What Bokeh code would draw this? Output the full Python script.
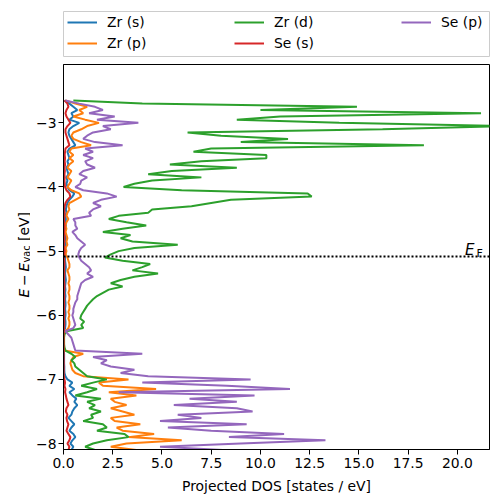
import math
from bokeh.plotting import figure
from bokeh.layouts import column, row
from bokeh.models import Legend, LegendItem, Span, Label, FixedTicker, Range1d
from bokeh.core.properties import value
from bokeh.embed import file_html
from bokeh.resources import INLINE

energy = [
    -2.65, -2.70, -2.75, -2.80, -2.85, -2.90, -2.95, -3.00, -3.05, -3.10,
    -3.15, -3.20, -3.25, -3.30, -3.35, -3.40, -3.45, -3.50, -3.55, -3.60,
    -3.65, -3.70, -3.75, -3.80, -3.85, -3.90, -3.95, -4.00, -4.05, -4.10,
    -4.15, -4.20, -4.25, -4.30, -4.35, -4.40, -4.45, -4.50, -4.55, -4.60,
    -4.65, -4.70, -4.75, -4.80, -4.85, -4.90, -4.95, -5.00, -5.05, -5.10,
    -5.15, -5.20, -5.25, -5.30, -5.35, -5.40, -5.45, -5.50, -5.55, -5.60,
    -5.65, -5.70, -5.75, -5.80, -5.85, -5.90, -5.95, -6.00, -6.05, -6.10,
    -6.15, -6.20, -6.25, -6.30, -6.35, -6.40, -6.45, -6.50, -6.55, -6.60,
    -6.65, -6.70, -6.75, -6.80, -6.85, -6.90, -6.95, -7.00, -7.05, -7.10,
    -7.15, -7.20, -7.25, -7.30, -7.35, -7.40, -7.45, -7.50, -7.55, -7.60,
    -7.65, -7.70, -7.75, -7.80, -7.85, -7.90, -7.95, -8.00, -8.05, -8.10,
]

zr_s = [
    0.05, 0.3, 0.5, 0.7, 0.4, 0.5, 0.3, 0.8, 0.5, 0.3,
    0.25, 0.3, 0.4, 0.5, 0.6, 0.3, 0.2, 0.25, 0.3, 0.2,
    0.25, 0.15, 0.2, 0.25, 0.15, 0.2, 0.15, 0.2, 0.3, 0.55,
    0.45, 0.3, 0.2, 0.15, 0.12, 0.15, 0.1, 0.12, 0.1, 0.12,
    0.1, 0.08, 0.1, 0.12, 0.1, 0.12, 0.1, 0.08, 0.1, 0.08,
    0.08, 0.1, 0.12, 0.1, 0.08, 0.1, 0.12, 0.1, 0.08, 0.1,
    0.08, 0.1, 0.08, 0.1, 0.1, 0.08, 0.1, 0.1, 0.08, 0.1,
    0.1, 0.08, 0.03, 0.02, 0.02, 0.02, 0.02, 0.02, 0.02, 0.03,
    0.03, 0.03, 0.03, 0.04, 0.04, 0.05, 0.1, 0.2, 0.45, 0.3,
    0.55, 0.3, 0.45, 0.65, 0.55, 0.7, 0.55, 0.45, 0.4, 0.25,
    0.4, 0.55, 0.4, 0.3, 0.5, 0.6, 0.45, 0.35, 0.5, 0.4,
]

zr_p = [
    0.1, 0.6, 1.2, 0.8, 1.0, 0.5, 1.1, 1.8, 1.2, 0.9,
    0.5, 0.4, 0.5, 0.9, 1.4, 0.4, 0.3, 0.5, 0.3, 0.5,
    0.3, 0.2, 0.4, 0.3, 0.2, 0.4, 0.3, 0.2, 0.4, 0.8,
    0.9, 0.6, 0.3, 0.25, 0.3, 0.2, 0.15, 0.25, 0.15, 0.1,
    0.15, 0.1, 0.15, 0.2, 0.15, 0.2, 0.1, 0.15, 0.1, 0.2,
    0.25, 0.3, 0.3, 0.2, 0.25, 0.3, 0.3, 0.25, 0.3, 0.3,
    0.25, 0.3, 0.3, 0.25, 0.3, 0.3, 0.25, 0.3, 0.25, 0.3,
    0.3, 0.25, 0.1, 0.02, 0.02, 0.02, 0.02, 0.02, 0.05, 1.0,
    0.5, 0.4, 0.35, 0.4, 0.45, 0.6, 1.0, 3.3, 1.8, 2.0,
    4.7, 2.3, 3.7, 2.4, 2.6, 3.2, 2.4, 3.0, 3.6, 2.4,
    2.6, 3.9, 2.7, 3.0, 4.6, 3.3, 6.0, 3.2, 2.4, 3.7,
]

zr_d = [
    0.5, 4.0, 14.9, 10.0, 21.2, 11.0, 8.8, 14.0, 22.5, 16.2,
    6.3, 8.0, 11.4, 9.0, 18.3, 7.5, 6.6, 10.3, 10.3, 7.0,
    5.4, 8.8, 5.5, 4.3, 7.0, 4.5, 3.6, 3.05, 6.0, 12.4,
    12.6, 8.5, 7.5, 6.5, 4.5, 4.3, 2.8, 2.3, 3.2, 4.2,
    3.0, 2.0, 3.4, 2.9, 3.5, 5.8, 3.6, 2.8, 2.4, 2.1,
    3.0, 4.4, 4.0, 3.5, 4.8, 3.6, 2.9, 2.4, 3.0, 2.3,
    2.0, 1.7, 1.5, 1.35, 1.2, 1.1, 1.0, 0.9, 0.85, 1.05,
    0.9, 1.0, 0.15, 0.05, 0.03, 0.03, 0.03, 0.05, 0.1, 0.4,
    0.6, 0.4, 0.55, 0.6, 0.8, 1.0, 1.2, 2.2, 1.5, 0.9,
    1.7, 1.2, 0.6, 1.9, 1.2, 1.6, 1.3, 1.9, 1.4, 1.5,
    1.0, 2.0, 2.2, 1.7, 3.1, 3.3, 2.2, 1.5, 1.1, 1.6,
]

se_s = [
    0.05, 0.2, 0.25, 0.15, 0.1, 0.15, 0.25, 0.35, 0.2, 0.1,
    0.1, 0.15, 0.2, 0.25, 0.3, 0.1, 0.08, 0.06, 0.08, 0.06,
    0.08, 0.05, 0.07, 0.05, 0.06, 0.05, 0.06, 0.08, 0.15, 0.3,
    0.35, 0.2, 0.1, 0.06, 0.04, 0.05, 0.04, 0.03, 0.04, 0.05,
    0.04, 0.03, 0.04, 0.05, 0.04, 0.03, 0.04, 0.05, 0.04, 0.03,
    0.04, 0.05, 0.04, 0.03, 0.04, 0.04, 0.03, 0.04, 0.05, 0.04,
    0.03, 0.04, 0.04, 0.03, 0.04, 0.03, 0.04, 0.04, 0.03, 0.04,
    0.04, 0.03, 0.01, 0.01, 0.01, 0.01, 0.01, 0.01, 0.01, 0.01,
    0.01, 0.01, 0.01, 0.01, 0.01, 0.01, 0.02, 0.05, 0.08, 0.05,
    0.1, 0.08, 0.12, 0.15, 0.2, 0.25, 0.15, 0.12, 0.2, 0.15,
    0.18, 0.25, 0.2, 0.15, 0.25, 0.35, 0.3, 0.2, 0.3, 0.25,
]

se_p = [
    0.1, 0.8, 1.6, 2.0, 1.3, 2.6, 1.7, 3.8, 2.0, 2.4,
    1.5, 1.2, 1.0, 1.6, 3.0, 1.1, 1.5, 1.0, 1.5, 1.1,
    1.2, 1.6, 1.0, 0.8, 1.2, 0.9, 0.85, 0.6, 1.0, 2.2,
    2.7, 1.9, 1.5, 1.9, 1.5, 1.3, 1.4, 0.5, 0.6, 0.6,
    0.7, 0.45, 0.6, 0.7, 0.9, 1.1, 0.9, 0.8, 0.75, 0.8,
    0.9, 1.1, 1.3, 1.4, 1.2, 1.5, 1.1, 0.9, 0.85, 0.8,
    0.75, 0.7, 0.7, 0.6, 0.55, 0.5, 0.5, 0.45, 0.5, 0.55,
    0.6, 0.5, 0.1, 0.25, 0.4, 0.45, 0.5, 0.55, 0.6, 4.0,
    1.5, 2.2, 1.9, 2.4, 3.6, 2.9, 4.3, 9.5, 4.0, 8.3,
    11.5, 2.8, 9.7, 6.4, 8.8, 5.6, 8.8, 9.6, 5.8, 7.0,
    4.9, 9.3, 5.3, 7.5, 11.2, 8.4, 13.3, 9.0, 4.9, 8.1,
]

series = [zr_s, zr_p, zr_d, se_s, se_p]
series_labels = ["Zr (s)", "Zr (p)", "Zr (d)", "Se (s)", "Se (p)"]
series_colors = ["#1f77b4", "#ff7f0e", "#2ca02c", "#d62728", "#9467bd"]
fermi_level = -5.085
x_ticks = [0.0, 2.5, 5.0, 7.5, 10.0, 12.5, 15.0, 17.5, 20.0]
y_ticks = [-8, -7, -6, -5, -4, -3]

FONT = "DejaVu Sans"
FS = "13.9px"
XMAX, YMIN, YMAX = 21.63, -8.093, -2.09
TOP, BOTTOM = 4, 52

# ---------------- main plot ----------------
p = figure(frame_width=426, frame_height=385,
           x_range=Range1d(0, XMAX), y_range=Range1d(YMIN, YMAX),
           output_backend="svg", toolbar_location=None,
           min_border_left=33, min_border_right=8, min_border_top=TOP,
           min_border_bottom=BOTTOM)
p.xgrid.visible = False
p.ygrid.visible = False
p.outline_line_color = "black"
p.outline_line_alpha = 1
p.outline_line_width = 1
p.background_fill_color = "white"
p.border_fill_color = "white"

for vals, col in zip(series, series_colors):
    p.line(vals, energy, line_color=col, line_width=2)

p.add_layout(Span(location=fermi_level, dimension="width", line_color="black",
                  line_dash="2 2", line_width=2))

for ax in (p.xaxis[0], p.yaxis[0]):
    ax.major_tick_out = 5
    ax.major_tick_in = 0
    ax.minor_tick_out = 0
    ax.minor_tick_in = 0
    ax.major_tick_line_color = "black"
    ax.axis_line_color = "black"
    ax.major_label_text_font = FONT
    ax.major_label_text_font_size = FS
    ax.major_label_text_color = "black"
    ax.axis_label_text_font = FONT
    ax.axis_label_text_font_size = FS
    ax.axis_label_text_font_style = "normal"
    ax.axis_label_text_color = "black"

p.xaxis.ticker = FixedTicker(ticks=x_ticks)
p.xaxis.major_label_overrides = {t: f"{t:.1f}" for t in x_ticks}
p.xaxis.major_label_standoff = 3
p.xaxis.axis_label = "Projected DOS [states / eV]"
p.xaxis.axis_label_standoff = 7

p.yaxis.ticker = FixedTicker(ticks=y_ticks)
p.yaxis.major_label_overrides = {t: "\u2212" + str(abs(t)) for t in y_ticks}
p.yaxis.major_label_standoff = 2

# E_F label
p.add_layout(Label(x=20.39, y=-4.99, text="E", text_font=FONT, text_font_size="15px",
                   text_font_style="italic", text_align="left",
                   text_baseline="alphabetic", text_color="black"))
p.add_layout(Label(x=20.97, y=-5.035, text="F", text_font=FONT, text_font_size="11px",
                   text_align="left", text_baseline="alphabetic", text_color="black"))

# ---------------- y-axis label strip (E - E_vac [eV]) ----------------
# frame aligned with the main frame: y counts pixels up from the main frame's bottom
lab = figure(frame_width=30, frame_height=385, x_range=Range1d(0, 30), y_range=Range1d(0, 385),
             output_backend="svg", toolbar_location=None,
             x_axis_location=None, y_axis_location=None,
             min_border_left=0, min_border_right=0, min_border_top=TOP,
             min_border_bottom=BOTTOM)
lab.xgrid.visible = False
lab.ygrid.visible = False
lab.outline_line_color = None
lab.background_fill_color = "white"
lab.border_fill_color = "white"
ang = math.pi / 2
lab.text(x=[23], y=[152], text=["E\u2009\u2212\u2009E"], angle=ang,
         text_font=value(FONT), text_font_size=value(FS), text_font_style="italic",
         text_align="left", text_baseline="alphabetic", text_color="black")
lab.text(x=[26], y=[186.9], text=["vac"], angle=ang,
         text_font=value(FONT), text_font_size=value("9.8px"),
         text_align="left", text_baseline="alphabetic", text_color="black")
lab.text(x=[23], y=[208.6], text=["[eV]"], angle=ang,
         text_font=value(FONT), text_font_size=value(FS),
         text_align="left", text_baseline="alphabetic", text_color="black")

# ---------------- legend strip ----------------
leg = figure(frame_width=426, frame_height=45, x_range=Range1d(0, 1), y_range=Range1d(0, 1),
             output_backend="svg", toolbar_location=None,
             x_axis_location=None, y_axis_location=None,
             min_border_left=63, min_border_right=8, min_border_top=11, min_border_bottom=4)
leg.xgrid.visible = False
leg.ygrid.visible = False
leg.outline_line_color = "#cccccc"
leg.outline_line_width = 1
leg.outline_line_alpha = 1
leg.background_fill_color = "white"
leg.border_fill_color = "white"

# legend proxies: the same series, lying outside this strip's ranges (not visible)
proxies = [leg.line(vals, energy, line_color=c, line_width=2)
           for vals, c in zip(series, series_colors)]
items = [LegendItem(label=l, renderers=[r]) for l, r in zip(series_labels, proxies)]
legend = Legend(items=items, orientation="vertical", nrows=2,
                label_text_font=FONT, label_text_font_size=FS, label_text_color="black",
                glyph_width=30, glyph_height=20, label_height=20, label_width=126,
                label_standoff=10, spacing=1, padding=0, margin=0,
                border_line_color=None, background_fill_alpha=0,
                location=(4, 3))
leg.add_layout(legend)

layout = column(leg, row(lab, p, spacing=0), spacing=0)
open("out.html", "w").write(file_html(layout, INLINE))
